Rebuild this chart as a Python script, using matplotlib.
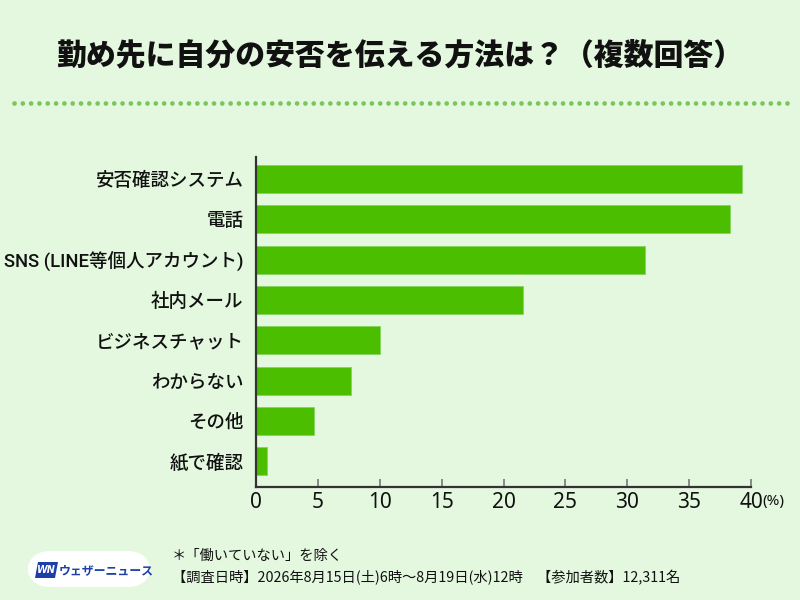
import numpy as np
import matplotlib
matplotlib.use("Agg")
import matplotlib.pyplot as plt
from matplotlib.lines import Line2D
from matplotlib.patches import FancyBboxPatch, Polygon

plt.rcParams["font.family"] = ["Noto Sans CJK JP", "DejaVu Sans"]

# ── Data ──────────────────────────────────────────────────────────────────────
CATEGORIES = [
    "安否確認システム",
    "電話",
    "SNS (LINE等個人アカウント)",
    "社内メール",
    "ビジネスチャット",
    "わからない",
    "その他",
    "紙で確認",
]
VALUES = [39.25, 38.3, 31.4, 21.6, 10.0, 7.7, 4.7, 0.9]
XTICKS = [0, 5, 10, 15, 20, 25, 30, 35, 40]

TITLE = "勤め先に自分の安否を伝える方法は？（複数回答）"
NOTE = "＊「働いていない」を除く"
SURVEY = "【調査日時】2026年8月15日(土)6時～8月19日(水)12時　【参加者数】12,311名"

BG = "#E4F8E0"
BAR = "#4CBE00"
DOT = "#7CC45E"
TXT = "#111111"

# ── Figure ────────────────────────────────────────────────────────────────────
fig = plt.figure(figsize=(8, 6), dpi=100, facecolor=BG)
ax = fig.add_axes([256 / 800, 0.1888, 495 / 800, 0.55])
ax.set_facecolor(BG)

y = np.arange(len(CATEGORIES))
ax.barh(y, VALUES, height=0.69, color=BAR, edgecolor="#86D460", linewidth=0.6)
ax.set_ylim(len(CATEGORIES) - 1 + 0.63, -0.55)
ax.set_xlim(0, 40)

ax.set_yticks(y)
ax.set_yticklabels(CATEGORIES, fontsize=13.3, color=TXT, fontweight="medium",
                   family=["Roboto", "Noto Sans CJK JP", "DejaVu Sans"])
ax.tick_params(axis="y", length=0, pad=9)

ax.set_xticks(XTICKS)
ax.set_xticklabels([str(t) for t in XTICKS], fontsize=15, color=TXT,
                   family=["Noto Sans", "DejaVu Sans"])
ax.tick_params(axis="x", direction="in", length=6, width=1.2, color="#777777", pad=4)

for side in ("top", "right"):
    ax.spines[side].set_visible(False)
for side in ("left", "bottom"):
    ax.spines[side].set_color("#333333")
    ax.spines[side].set_linewidth(1.6)

fig.text(762 / 800, 1 - 502 / 600, "(%)", fontsize=11, color=TXT,
         ha="left", va="center", family=["Noto Sans", "DejaVu Sans"])

# ── Title and dotted rule ─────────────────────────────────────────────────────
fig.text(0.5, 1 - 56 / 600, TITLE, ha="center", va="center",
         fontsize=21.5, fontweight="black", color=TXT)
fig.add_artist(Line2D([14 / 800, 788 / 800], [1 - 103 / 600] * 2,
                      transform=fig.transFigure, color=DOT, linewidth=3.4,
                      linestyle=(0, (0.01, 1.75)), dash_capstyle="round"))

# ── Footer ────────────────────────────────────────────────────────────────────
fig.text(172 / 800, 1 - 556 / 600, NOTE, fontsize=10.3, color=TXT,
         ha="left", va="center")
fig.text(172 / 800, 1 - 578 / 600, SURVEY, fontsize=10.3, color=TXT,
         ha="left", va="center")

# logo pill
fig.add_artist(FancyBboxPatch((27 / 800, 1 - 587 / 600), 124 / 800, 36 / 600,
                              boxstyle="round,pad=0,rounding_size=0.03",
                              transform=fig.transFigure, facecolor="white",
                              edgecolor="none", mutation_aspect=1.33))
fig.add_artist(Polygon([[35 / 800, 1 - 578 / 600], [38 / 800, 1 - 562 / 600],
                        [58 / 800, 1 - 562 / 600], [55 / 800, 1 - 578 / 600]],
                       closed=True, transform=fig.transFigure,
                       facecolor="#1C3FA8", edgecolor="none"))
fig.text(46.5 / 800, 1 - 570 / 600, "WN", fontsize=7, fontweight="bold",
         style="italic", color="white", ha="center", va="center",
         family=["DejaVu Sans"])
fig.text(59 / 800, 1 - 571 / 600, "ウェザーニュース", fontsize=8.6,
         fontweight="bold", color="#1C3FA8", ha="left", va="center")

fig.savefig("out.png", dpi=100, facecolor=BG)
